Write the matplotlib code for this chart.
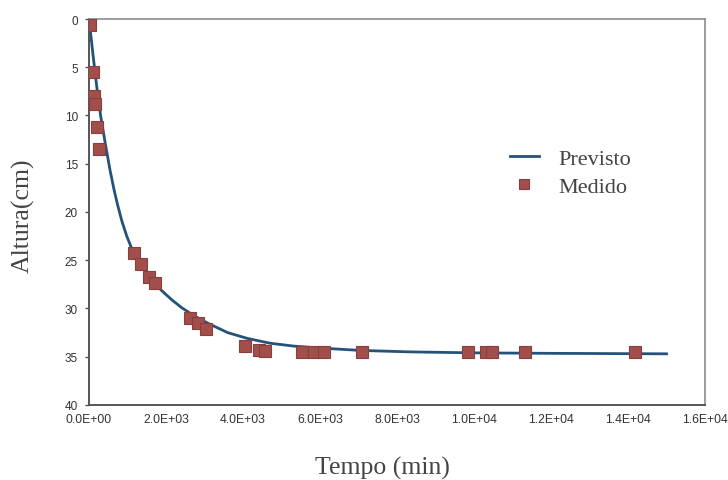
import matplotlib
matplotlib.use("Agg")
import matplotlib.pyplot as plt
from matplotlib.ticker import FuncFormatter, MultipleLocator

# Predicted settling curve (time in min, height in cm)
prev_t = [0, 100, 200, 300, 435, 547, 650, 738, 850, 980, 1130, 1300, 1500, 1700,
          1900, 2150, 2400, 2630, 2900, 3150, 3600, 4110, 4700, 5320, 6000, 7060,
          8360, 10000, 12000, 15000]
prev_h = [0, 3.6, 7.0, 10.0, 13.2, 15.7, 17.7, 19.2, 20.9, 22.5, 24.0, 25.2, 26.4, 27.4,
          28.2, 29.1, 29.9, 30.5, 31.15, 31.65, 32.5, 33.1, 33.6, 33.9, 34.1, 34.35,
          34.5, 34.6, 34.65, 34.7]

# Measured heights
med_t = [0, 20, 100, 130, 150, 200, 260, 1170, 1350, 1570, 1720, 2630, 2830, 3040,
         4060, 4410, 4560, 5540, 5840, 6100, 7100, 9850, 10310, 10470, 11330, 14190]
med_h = [0.0, 0.6, 5.5, 8.0, 8.8, 11.2, 13.5, 24.2, 25.4, 26.7, 27.4, 31.0, 31.5, 32.1,
         33.9, 34.3, 34.4, 34.5, 34.5, 34.5, 34.5, 34.5, 34.5, 34.5, 34.5, 34.5]

fig = plt.figure(figsize=(7.28, 4.81), dpi=100)
ax = fig.add_axes([0.1223, 0.156, 0.8461, 0.8024])

ax.plot(prev_t, prev_h, color="#24527a", lw=2.0, label="Previsto", zorder=2,
        solid_joinstyle="round")
ax.plot(med_t, med_h, ls="none", marker="s", ms=8.8, color="#a24f4c",
        mec="#8a3d3b", mew=0.8, label="Medido", zorder=3)

ax.set_xlim(0, 16000)
ax.set_ylim(40, 0)
ax.xaxis.set_major_locator(MultipleLocator(2000))
ax.yaxis.set_major_locator(MultipleLocator(5))
ax.xaxis.set_major_formatter(FuncFormatter(lambda v, p: f"{v:.1E}"))
ax.yaxis.set_major_formatter(FuncFormatter(lambda v, p: f"{v:g}"))

for side in ["top", "right"]:
    ax.spines[side].set_color("#8c8c8c")
    ax.spines[side].set_linewidth(1.2)
for side in ["left", "bottom"]:
    ax.spines[side].set_color("#555555")
    ax.spines[side].set_linewidth(1.4)

ax.tick_params(axis="y", direction="out", length=3, width=1, color="#555555",
               labelsize=8.5, labelcolor="#333333", pad=5)
ax.tick_params(axis="x", length=0, labelsize=8.8, labelcolor="#333333", pad=6)
for lbl in ax.get_xticklabels() + ax.get_yticklabels():
    lbl.set_fontfamily("Liberation Sans")

serif = "Liberation Serif"
fig.text(0.526, 0.027, "Tempo (min)", ha="center", va="center",
         fontsize=18.5, family=serif, color="#444444")
fig.text(0.032, 0.551, "Altura(cm)", ha="center", va="center", rotation=90,
         fontsize=18.5, family=serif, color="#444444")

leg = ax.legend(loc="upper left", bbox_to_anchor=(0.683, 0.664), frameon=False,
                borderpad=0, borderaxespad=0, markerscale=0.8,
                prop={"family": serif, "size": 16}, handlelength=1.3,
                handletextpad=0.87, labelspacing=0.32, labelcolor="#444444")

fig.savefig("out.png", dpi=100, facecolor="white")
